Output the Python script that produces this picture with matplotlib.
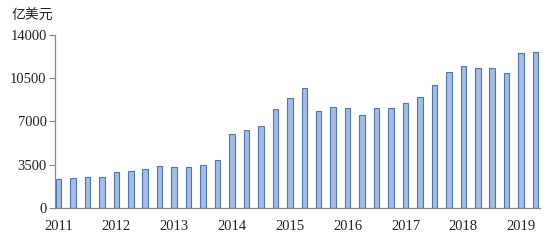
import matplotlib
matplotlib.use("Agg")
import matplotlib.pyplot as plt
import numpy as np

years = ["2011", "2012", "2013", "2014", "2015", "2016", "2017", "2018", "2019"]
values = [2320, 2420, 2480, 2480, 2910, 3010, 3150, 3390, 3340, 3340, 3500, 3880,
          6000, 6330, 6650, 7970, 8890, 9670, 7860, 8130, 8080, 7490, 8080, 8080,
          8480, 8940, 9960, 10990, 11500, 11290, 11310, 10960, 12550, 12630]
yticks = [0, 3500, 7000, 10500, 14000]
unit_label = "亿美元"

fig = plt.figure(figsize=(5.5, 2.41), dpi=100)
ax = fig.add_axes([0.1, 0.137, 0.882, 0.718])

x = np.arange(len(values))
ax.bar(x, values, width=0.38, color="#a3bde3", edgecolor="#4f74b0", linewidth=0.8)

ax.set_xlim(-0.24, len(values) - 1 + 0.31)
ax.set_ylim(0, 14000)
ax.set_yticks(yticks)
ax.set_yticklabels([str(v) for v in yticks], fontfamily="Liberation Serif", fontsize=10.5, color="#222222")
ax.set_xticks(np.arange(0, len(values), 4))
ax.set_xticklabels(years, fontfamily="Liberation Serif", fontsize=10.5, color="#222222")
ax.tick_params(axis="x", length=0, pad=9)
ax.tick_params(axis="y", length=4, width=0.8, color="#888888", pad=2)

for s in ["top", "right"]:
    ax.spines[s].set_visible(False)
for s in ["left", "bottom"]:
    ax.spines[s].set_color("#888888")
    ax.spines[s].set_linewidth(0.9)

fig.text(0.022, 0.935, unit_label, fontfamily=["Noto Sans CJK SC", "DejaVu Sans"], fontsize=10,
         color="#222222", va="center", ha="left")

fig.savefig("out.png", dpi=100)
